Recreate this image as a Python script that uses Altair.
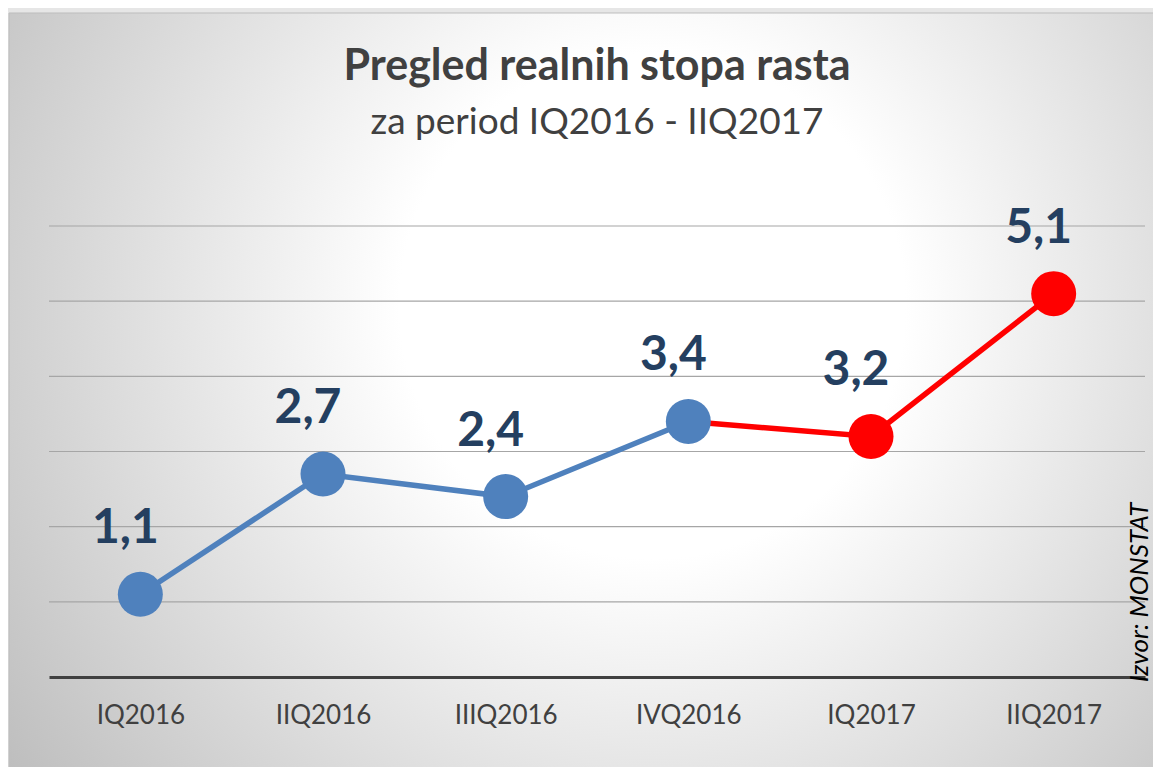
import altair as alt
import pandas as pd

quarters = ["IQ2016", "IIQ2016", "IIIQ2016", "IVQ2016", "IQ2017", "IIQ2017"]
values = [1.1, 2.7, 2.4, 3.4, 3.2, 5.1]
labels = ["1,1", "2,7", "2,4", "3,4", "3,2", "5,1"]
point_colors = ["#4F81BD", "#4F81BD", "#4F81BD", "#4F81BD", "#FF0000", "#FF0000"]
y_ticks = [1, 2, 3, 4, 5, 6]

df = pd.DataFrame({
    "q": quarters,
    "v": values,
    "lab": labels,
    "col": point_colors,
    "i": list(range(len(quarters))),
})
grid_df = pd.DataFrame({"g": y_ticks})

FONT = "Lato"
W, H = 1096, 451

xenc = alt.X("q:N", sort=quarters, scale=alt.Scale(type="point", padding=0.5),
             axis=alt.Axis(title=None, labelFont=FONT, labelFontSize=26, labelColor="#404040",
                           labelPadding=25, ticks=False, domainColor="#404040",
                           domainWidth=3, grid=False, labelAngle=0, zindex=1))
yscale = alt.Scale(domain=[0, 6], nice=False)
yaxis = alt.Axis(orient="right", labels=False, ticks=False,
                 domain=False, grid=False, zindex=1,
                 title="Izvor: MONSTAT", titleFont=FONT, titleFontStyle="italic",
                 titleFontWeight="normal", titleFontSize=26, titleColor="#000000",
                 titleAngle=270, titleAlign="center", titleBaseline="middle",
                 titleX=-6, titleY=366)
yenc = alt.Y("v:Q", scale=yscale, axis=yaxis)

bg = alt.Chart(pd.DataFrame({"a": [0]})).mark_rect(
    fill=alt.Gradient(
        gradient="radial",
        stops=[alt.GradientStop(offset=0, color="#FFFFFF"),
               alt.GradientStop(offset=0.3, color="#FFFFFF"),
               alt.GradientStop(offset=1, color="#B8B8B8")],
        x1=0.55, y1=0.42, r1=0.0,
        x2=0.55, y2=0.42, r2=0.72,
    ),
    stroke="#BDBDBD", strokeWidth=1,
).encode(x=alt.value(-40), x2=alt.value(1130), y=alt.value(-213), y2=alt.value(560))

grid = alt.Chart(grid_df).mark_rule(color="#A6A6A6", strokeWidth=1.2).encode(
    y=alt.Y("g:Q", scale=yscale, axis=yaxis), x=alt.value(0), x2=alt.value(W))

base = alt.Chart(df)

line_blue = base.transform_filter("datum.i <= 3").mark_line(color="#4F81BD", strokeWidth=5.5).encode(
    x=xenc, y=yenc)
line_red = base.transform_filter("datum.i >= 3").mark_line(color="#FF0000", strokeWidth=5.5).encode(
    x=xenc, y=yenc)
points = base.mark_circle(size=2025, opacity=1).encode(
    x=xenc, y=yenc, color=alt.Color("col:N", scale=None))
text = base.mark_text(font=FONT, fontSize=48, fontWeight="bold", color="#243F60",
                      dx=-15, dy=-65, baseline="middle").encode(x=xenc, y=yenc, text="lab:N")

chart = alt.layer(bg, grid, line_blue, line_red, points, text).properties(
    width=W, height=H,
    title=alt.Title(
        "Pregled realnih stopa rasta",
        subtitle="za period IQ2016 - IIQ2017",
        font=FONT, fontSize=43, fontWeight="bold", color="#404040",
        subtitleFont=FONT, subtitleFontSize=37, subtitleColor="#404040",
        subtitlePadding=16, anchor="middle", offset=-128, frame="group",
    ),
    autosize=alt.AutoSizeParams(type="none"),
    padding={"left": 41, "top": 218, "right": 8, "bottom": 90},
).configure(background="#E6E6E6").configure_view(stroke=None)

chart.save("out.html", embed_options={"renderer": "svg", "actions": False})
